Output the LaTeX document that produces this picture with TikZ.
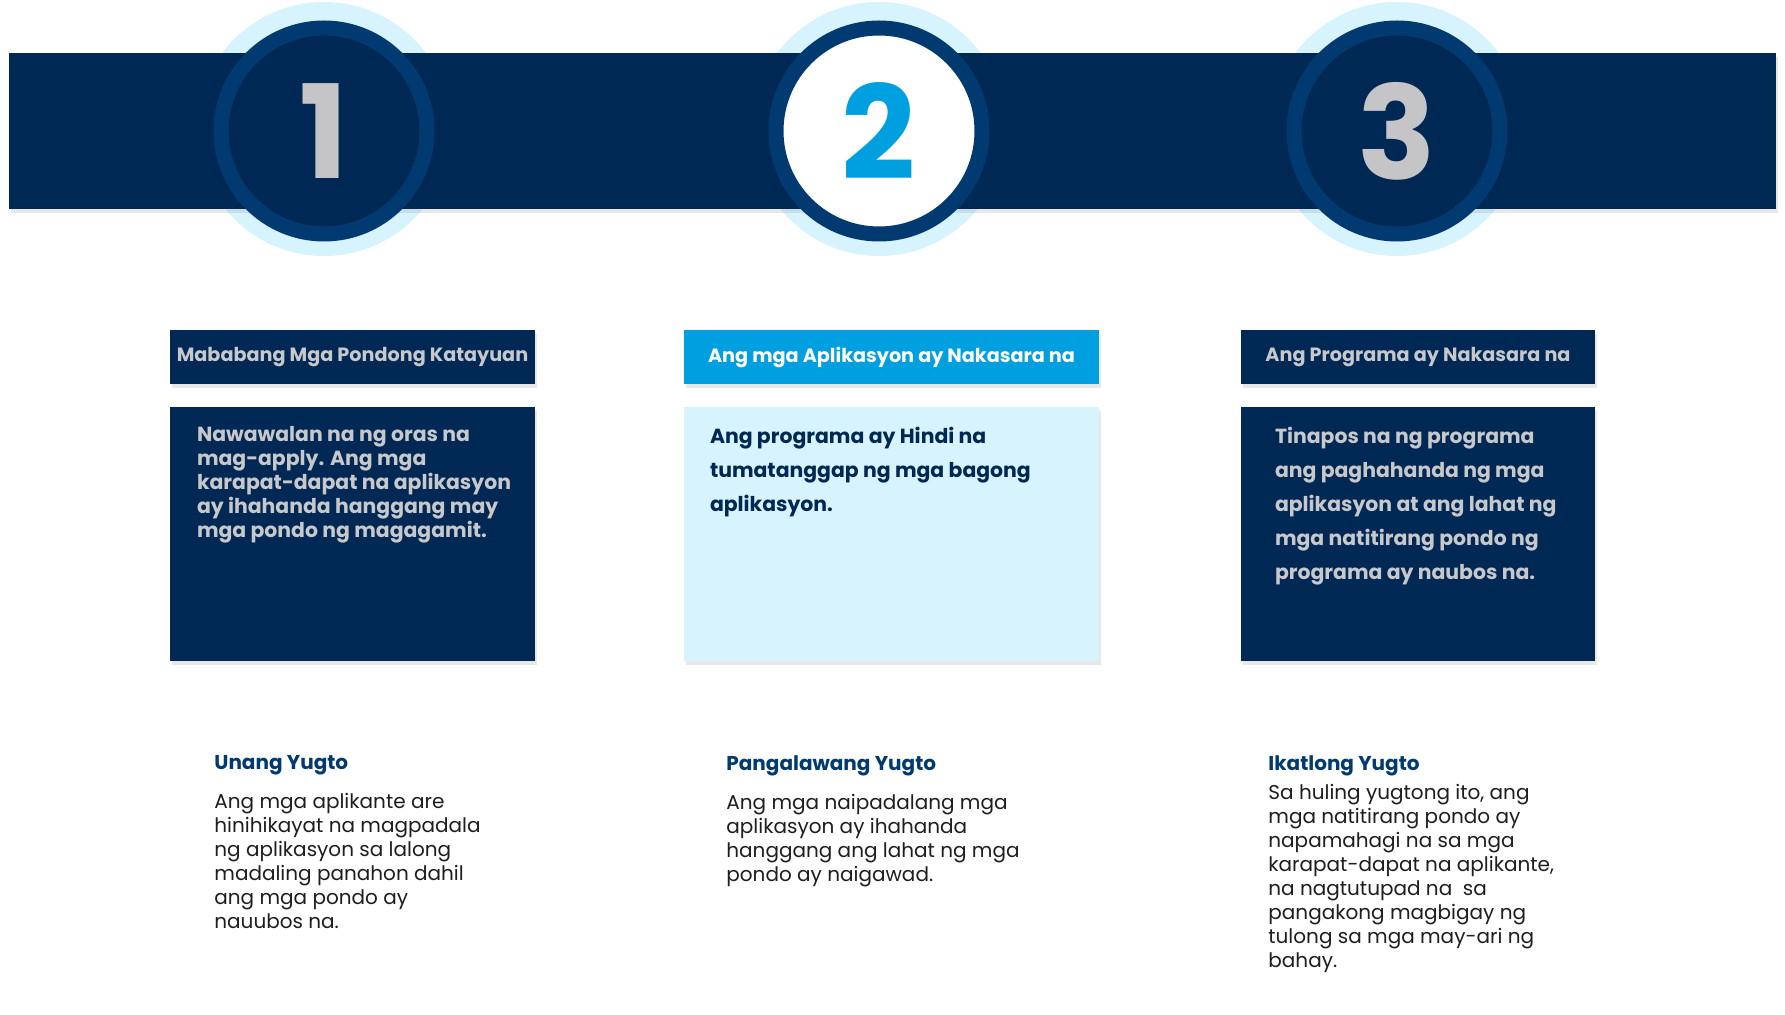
\documentclass[tikz,border=0pt]{standalone}
\usepackage{fontspec}
\setmainfont{Poppins}
\usepackage{xcolor}
\usetikzlibrary{positioning,shadows}
\definecolor{navy}{HTML}{002855}
\definecolor{ringblue}{HTML}{003A70}
\definecolor{halo}{HTML}{D7F3FD}
\definecolor{sky}{HTML}{009FE0}
\definecolor{digitgray}{HTML}{C5C4C6}
\definecolor{textgray}{HTML}{C8C8CA}
\definecolor{inkblack}{HTML}{1E1E1E}

\begin{document}
\begin{tikzpicture}[x=0.5pt,y=-0.5pt,
  softshadow/.style={drop shadow={opacity=0.18,shadow xshift=1pt,shadow yshift=-2pt}},
  ringnode/.style={circle,minimum size=103pt,inner sep=0pt,draw=ringblue,line width=7.5pt,
    font=\bfseries\fontsize{65}{65}\selectfont},
  hdr/.style={minimum height=27pt,inner sep=0pt,softshadow,font=\bfseries\fontsize{9.6}{11}\selectfont},
  card/.style={minimum height=127pt,inner sep=0pt,softshadow},
  cardtext/.style={anchor=north west,inner sep=0pt,align=left,font=\bfseries\fontsize{10.2}{12}\selectfont},
  stagehead/.style={anchor=north west,inner sep=0pt,text=ringblue,font=\bfseries\fontsize{10}{12}\selectfont},
  stagetext/.style={anchor=north west,inner sep=0pt,align=left,text=inkblack,font=\fontsize{10}{12}\selectfont}]
\useasboundingbox[fill=white](0,0)rectangle(1785,1015);
\fill[halo](324,129)circle(63.5pt) (879,129)circle(63.5pt) (1397,129)circle(63.5pt);
\fill[navy,softshadow](9,53)rectangle(1776,209);
\node[ringnode,fill=navy,text=digitgray](c1)at(324,131){1};
\node[ringnode,fill=white,text=sky](c2)at(879,131){2};
\node[ringnode,fill=navy,text=digitgray](c3)at(1397,131){3};

\node[hdr,fill=navy,text=textgray,minimum width=182.5pt](h1)at(352.5,357){Mababang Mga Pondong Katayuan};
\node[hdr,fill=sky,text=white,minimum width=207.5pt](h2)at(891.5,357){Ang mga Aplikasyon ay Nakasara na};
\node[hdr,fill=navy,text=textgray,minimum width=177pt](h3)at(1418,357){Ang Programa ay Nakasara na};

\node[card,fill=navy,minimum width=182.5pt,below=11pt of h1](b1){};
\node[card,fill=halo,minimum width=207.5pt,below=11pt of h2](b2){};
\node[card,fill=navy,minimum width=177pt,below=11pt of h3](b3){};

\node[cardtext,text=textgray]at([xshift=13.5pt,yshift=-10pt]b1.north west){Nawawalan na ng oras na\\mag-apply. Ang mga\\karapat-dapat na aplikasyon\\ay ihahanda hanggang may\\mga pondo ng magagamit.};
\node[cardtext,text=navy,font=\bfseries\fontsize{10.2}{17}\selectfont]at([xshift=13pt,yshift=-10pt]b2.north west){Ang programa ay Hindi na\\tumatanggap ng mga bagong\\aplikasyon.};
\node[cardtext,text=textgray,font=\bfseries\fontsize{10.2}{17}\selectfont]at([xshift=17pt,yshift=-10pt]b3.north west){Tinapos na ng programa\\ang paghahanda ng mga\\aplikasyon at ang lahat ng\\mga natitirang pondo ng\\programa ay naubos na.};

\node[stagehead](s1)at(214,755){Unang Yugto};
\node[stagehead](s2)at(726,755){Pangalawang Yugto};
\node[stagehead](s3)at(1268,755){Ikatlong Yugto};
\node[stagetext,below=9pt of s1.south west,anchor=north west]{Ang mga aplikante are\\hinihikayat na magpadala\\ng aplikasyon sa lalong\\madaling panahon dahil\\ang mga pondo ay\\nauubos na.};
\node[stagetext,below=9pt of s2.south west,anchor=north west]{Ang mga naipadalang mga\\aplikasyon ay ihahanda\\hanggang ang lahat ng mga\\pondo ay naigawad.};
\node[stagetext,below=4pt of s3.south west,anchor=north west]{Sa huling yugtong ito, ang\\mga natitirang pondo ay\\napamahagi na sa mga\\karapat-dapat na aplikante,\\na nagtutupad na\ \ sa\\pangakong magbigay ng\\tulong sa mga may-ari ng\\bahay.};
\end{tikzpicture}
\end{document}
